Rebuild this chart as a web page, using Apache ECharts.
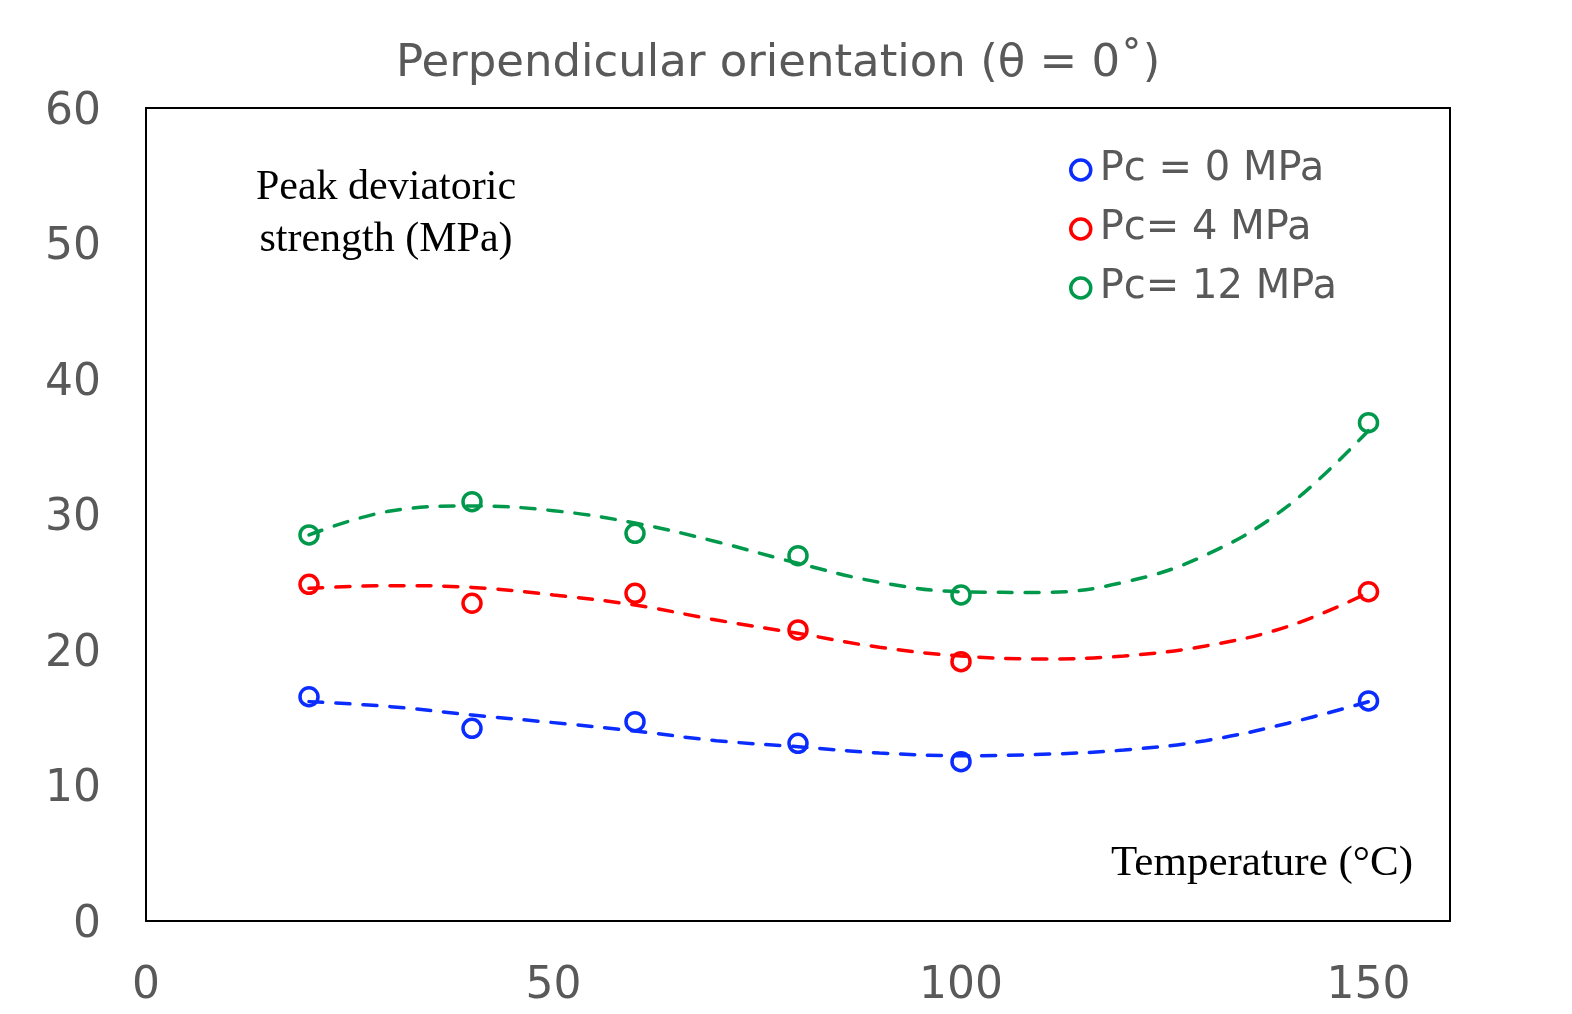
<!DOCTYPE html>
<html>
<head>
<meta charset="utf-8">
<style>
  html, body { margin: 0; padding: 0; background: #fff; }
  #chart { width: 1572px; height: 1014px; }
</style>
<script src="https://cdn.jsdelivr.net/npm/echarts@6/dist/echarts.min.js"></script>
</head>
<body>
<div id="chart"></div>
<script>
const chart = echarts.init(document.getElementById("chart"));

// measured points (temperature, peak deviatoric strength)
const temps = [20, 40, 60, 80, 100, 150];
const pc0 = [16.55, 14.22, 14.71, 13.11, 11.76, 16.24];
const pc4 = [24.85, 23.45, 24.18, 21.48, 19.14, 24.3];
const pc12 = [28.49, 30.95, 28.61, 26.96, 24.06, 36.78];

// dashed trend curves
const trendTemps = [20, 30, 40, 50, 60, 70, 80, 90, 100, 110, 120, 130, 140, 150];
const trend0 = [16.19, 15.82, 15.2, 14.64, 14.02, 13.31, 12.86, 12.4, 12.2, 12.3, 12.62, 13.31, 14.58, 16.19];
const trend4 = [24.55, 24.75, 24.62, 24.06, 23.32, 22.21, 21.23, 20.2, 19.56, 19.34, 19.56, 20.3, 21.72, 24.23];
const trend12 = [28.49, 30.26, 30.63, 30.28, 29.37, 27.99, 26.4, 25.0, 24.3, 24.25, 25.0, 27.0, 30.58, 36.2];

const names = ["Pc = 0 MPa", "Pc= 4 MPa", "Pc= 12 MPa"];
const colors = ["#0a2cff", "#ff0000", "#00994c"];

const pair = (xs, ys) => xs.map((x, i) => [x, ys[i]]);
const points = [pc0, pc4, pc12];
const trends = [trend0, trend4, trend12];

const series = [];
trends.forEach((t, i) => {
	series.push({
		name: names[i] + " trend",
		type: "line",
		data: pair(trendTemps, t),
		smooth: 0.4,
		showSymbol: false,
		silent: true,
		lineStyle: { color: colors[i], width: 3.5, type: [14, 13], cap: "round", opacity: 1 },
		z: 2
	});
});
points.forEach((p, i) => {
	series.push({
		name: names[i],
		type: "scatter",
		data: pair(temps, p),
		symbol: "circle",
		symbolSize: 18,
		itemStyle: { color: "rgba(255,255,255,0)", borderColor: colors[i], borderWidth: 3.5, opacity: 1 },
		z: 3
	});
});

const axisFont = { fontFamily: "DejaVu Sans", fontSize: 44, color: "#595959" };

option = {
	backgroundColor: "#fff",
	animation: false,
	title: {
		text: "Perpendicular orientation (θ = 0˚)",
		left: 391,
		top: 37,
		textStyle: { fontFamily: "DejaVu Sans", fontSize: 45, fontWeight: "normal", color: "#595959" }
	},
	legend: {
		data: names,
		orient: "vertical",
		left: 1064,
		top: 145,
		itemWidth: 28,
		itemHeight: 20,
		itemGap: 19,
		itemStyle: { borderWidth: 3.5, opacity: 1 },
		textStyle: { fontFamily: "DejaVu Sans", fontSize: 40, lineHeight: 40, color: "#595959" }
	},
	grid: {
		left: 146,
		right: 122,
		top: 108,
		bottom: 93,
		show: true,
		borderColor: "#000",
		borderWidth: 2,
		backgroundColor: "transparent"
	},
	xAxis: {
		type: "value",
		min: 0,
		max: 160,
		interval: 50,
		axisLine: { show: false },
		axisTick: { show: false },
		splitLine: { show: false },
		axisLabel: Object.assign({
			margin: 44,
			formatter: v => (v % 50 === 0 ? String(v) : "")
		}, axisFont)
	},
	yAxis: {
		type: "value",
		min: 0,
		max: 60,
		interval: 10,
		axisLine: { show: false },
		axisTick: { show: false },
		splitLine: { show: false },
		axisLabel: {
			margin: 45,
			formatter: v => "{t|" + v + "}",
			rich: { t: Object.assign({ padding: [9, 0, 0, 0] }, axisFont) }
		}
	},
	graphic: [{
		type: "text",
		x: 386,
		y: 162,
		style: {
			text: "Peak deviatoric\nstrength (MPa)",
			fontFamily: "Liberation Serif",
			fontSize: 42,
			lineHeight: 52,
			fill: "#000",
			align: "center",
			verticalAlign: "top"
		}
	}, {
		type: "text",
		x: 1413,
		y: 864,
		style: {
			text: "Temperature (°C)",
			fontFamily: "Liberation Serif",
			fontSize: 43,
			fill: "#000",
			align: "right",
			verticalAlign: "middle"
		}
	}],
	series: series
};

chart.setOption(option);
window.onresize = chart.resize;
</script>
</body>
</html>
